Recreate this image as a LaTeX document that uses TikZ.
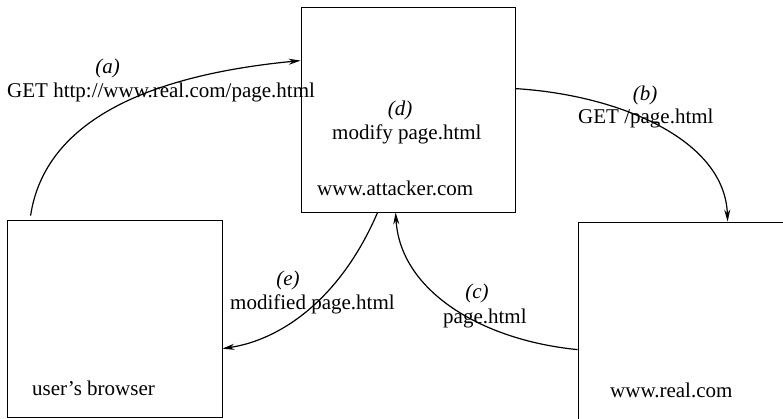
\documentclass[tikz,border=0pt]{standalone}
\usepackage{fontspec}
\setmainfont{Liberation Serif}
\usetikzlibrary{calc,arrows.meta}
\begin{document}
\begin{tikzpicture}[x=1pt,y=-1pt,
  box/.style={draw, line width=0.8pt, rectangle, inner sep=0pt},
  lbl/.style={inner sep=0pt, font=\fontsize{21}{24}\selectfont},
  tag/.style={inner sep=0pt, font=\fontsize{21}{24}\selectfont\itshape, anchor=base},
  conn/.style={line width=1.2pt, -{Stealth[length=12pt,width=6pt]}}]
\clip (0,0) rectangle (783,418);
% boxes
\node[box, minimum width=214pt, minimum height=205pt] (att) at (408,109.5) {};
\node[box, minimum width=215pt, minimum height=197pt] (br) at (114.5,318.5) {};
\node[box, minimum width=222pt, minimum height=208pt] (real) at (689,326) {};
% box texts
\node[lbl, anchor=base west] (atttxt) at (317,195) {www.attacker.com};
\node[lbl, anchor=base west] (brtxt) at (32,395) {user’s browser};
\node[lbl, anchor=base west] (realtxt) at (610,397) {www.real.com};
\node[tag] (d) at (400,115) {(d)};
\node[lbl, anchor=base west] (dtxt) at (332,139) {modify page.html};
% connector labels
\node[tag] (a) at (107.5,73) {(a)};
\node[lbl, anchor=base west] (atxt) at (7,97) {GET http://www.real.com/page.html};
\node[tag] (b) at (645,100) {(b)};
\node[lbl, anchor=base west] (btxt) at (578,123) {GET /page.html};
\node[tag] (e) at (288,285) {(e)};
\node[lbl, anchor=base west] (etxt) at (230,309) {modified page.html};
\node[tag] (c) at (477,298) {(c)};
\node[lbl, anchor=base west] (ctxt) at (443,323) {page.html};
% connectors
\coordinate (aS) at ($(br.north west)+(24,-4)$);
\coordinate (aE) at ($(att.north west)+(0,54)$);
\coordinate (bS) at ($(att.north east)+(0,82)$);
\coordinate (bE) at ($(real.north west)+(150,0)$);
\coordinate (eS) at ($(att.south west)+(77,0)$);
\coordinate (eE) at ($(br.north east)+(0,129)$);
\coordinate (cS) at ($(real.north west)+(0,128)$);
\coordinate (cE) at ($(att.south west)+(95,0)$);
\draw[conn] (aS) .. controls (45,120) and (150,75) .. (aE);
\draw[conn] (bS) .. controls (620,95) and (725,140) .. (bE);
\draw[conn] (eS) .. controls (340,300) and (280,340) .. (eE);
\draw[conn] (cS) .. controls (480,340) and (400,290) .. (cE);
\end{tikzpicture}
\end{document}
